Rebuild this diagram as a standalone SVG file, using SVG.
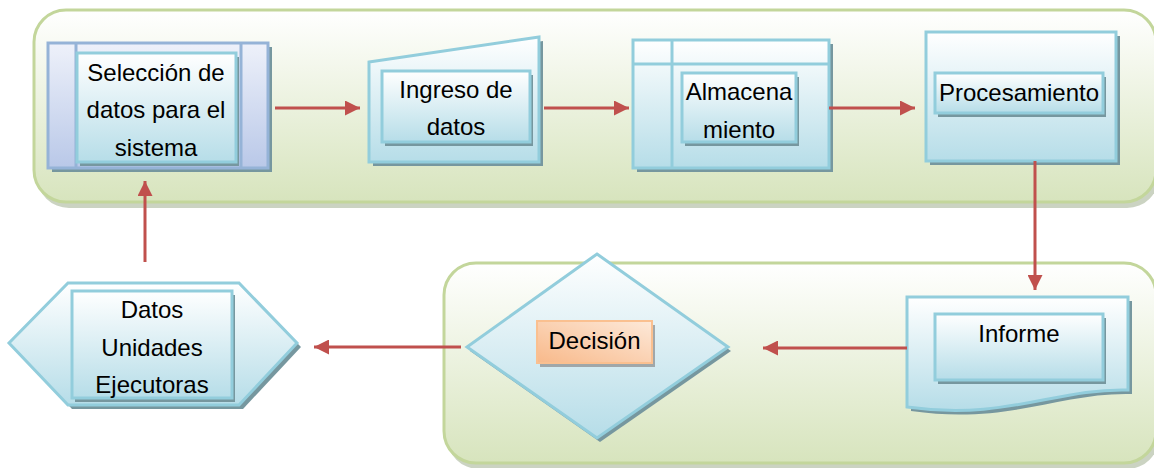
<svg xmlns="http://www.w3.org/2000/svg" width="1154" height="468" viewBox="0 0 1154 468">
<defs>
<linearGradient id="gGreen" x1="0" y1="0" x2="0" y2="1">
<stop offset="0" stop-color="#ffffff"/><stop offset="1" stop-color="#d7e4bd"/>
</linearGradient>
<linearGradient id="gBlue" x1="0" y1="0" x2="0" y2="1">
<stop offset="0" stop-color="#ffffff"/><stop offset="1" stop-color="#b6dde8"/>
</linearGradient>
<linearGradient id="gLav" x1="0" y1="0" x2="0" y2="1">
<stop offset="0" stop-color="#eef1fa"/><stop offset="1" stop-color="#b9c8e8"/>
</linearGradient>
<linearGradient id="gOrange" x1="1" y1="0" x2="0" y2="1">
<stop offset="0" stop-color="#fde9d9"/><stop offset="1" stop-color="#f8b98a"/>
</linearGradient>
<marker id="arr" viewBox="0 0 10 10" refX="10" refY="5" markerWidth="15" markerHeight="15" markerUnits="userSpaceOnUse" orient="auto">
<path d="M0,0 L10,5 L0,10 Z" fill="#c0504d"/>
</marker>
<style>
.cont{fill:url(#gGreen);stroke:#c3d69b;stroke-width:3}
.cshadow{fill:#a9b59a;opacity:0.6}
.outer{fill:url(#gBlue);stroke:#92cddc;stroke-width:3}
.inner{fill:url(#gBlue);stroke:#92cddc;stroke-width:3}
.shadow{fill:#76979f}
.lav{fill:url(#gLav);stroke:#95b3d7;stroke-width:3}
.orange{fill:url(#gOrange);stroke:#fac090;stroke-width:2}
.line{fill:none;stroke:#92cddc;stroke-width:3}
.conn{stroke:#c0504d;stroke-width:3;fill:none;marker-end:url(#arr)}
text{font-family:"Liberation Sans",Arial,sans-serif;font-size:24px;fill:#000;text-anchor:middle}
</style>
</defs>

<g id="containers">
<rect class="cshadow" x="37" y="14" width="1122" height="194" rx="32"/>
<rect class="cont" x="34" y="10" width="1122" height="192" rx="32"/>
<rect class="cshadow" x="447" y="267" width="712" height="202" rx="32"/>
<rect class="cont" x="444" y="263" width="712" height="200" rx="32"/>
</g>

<g id="n-seleccion">
<rect class="shadow" x="52" y="47" width="220" height="125"/>
<rect class="lav" x="48" y="43" width="220" height="125"/>
<line x1="76" y1="43" x2="76" y2="168" stroke="#95b3d7" stroke-width="3"/>
<line x1="241" y1="43" x2="241" y2="168" stroke="#95b3d7" stroke-width="3"/>
<rect class="shadow" x="80" y="57" width="159" height="109"/>
<rect class="inner" x="77" y="53" width="159" height="109"/>
<text x="156" y="81">Selección de</text>
<text x="156" y="118">datos para el</text>
<text x="156" y="156">sistema</text>
</g>

<g id="n-ingreso">
<path class="shadow" d="M373,66 L543,41 L543,166 L373,166 Z"/>
<path class="outer" d="M369,62 L539,37 L539,162 L369,162 Z"/>
<rect class="shadow" x="385" y="75" width="148" height="71"/>
<rect class="inner" x="382" y="71" width="148" height="71"/>
<text x="456" y="98">Ingreso de</text>
<text x="456" y="135">datos</text>
</g>

<g id="n-almacenamiento">
<rect class="shadow" x="637" y="44" width="196" height="128"/>
<rect class="outer" x="633" y="40" width="196" height="128"/>
<line class="line" x1="633" y1="64" x2="829" y2="64"/>
<line class="line" x1="672" y1="40" x2="672" y2="168"/>
<rect class="shadow" x="685" y="77" width="114" height="69"/>
<rect class="inner" x="682" y="73" width="114" height="69"/>
<text x="739" y="100">Almacena</text>
<text x="739" y="138">miento</text>
</g>

<g id="n-procesamiento">
<rect class="shadow" x="930" y="36" width="190" height="129"/>
<rect class="outer" x="926" y="32" width="190" height="129"/>
<rect class="shadow" x="938" y="77" width="168" height="40"/>
<rect class="inner" x="935" y="73" width="168" height="40"/>
<text x="1019" y="101">Procesamiento</text>
</g>

<g id="n-informe">
<path class="shadow" d="M911,301 L1132,301 L1132,394 C1060,392 1010,425 911,411 Z"/>
<path class="outer" d="M907,297 L1128,297 L1128,390 C1056,388 1006,421 907,407 Z"/>
<rect class="shadow" x="938" y="318" width="168" height="66"/>
<rect class="inner" x="935" y="314" width="168" height="66"/>
<text x="1019" y="342">Informe</text>
</g>

<g id="n-decision">
<path class="shadow" d="M600,258 L731,351 L600,442 L470,351 Z"/>
<path class="outer" d="M597,254 L728,347 L597,438 L467,347 Z"/>
<rect fill="#8a8a8a" opacity="0.7" x="540" y="325" width="115" height="42"/>
<rect class="orange" x="537" y="321" width="115" height="42"/>
<text x="594.5" y="349">Decisión</text>
</g>

<g id="n-datos">
<path class="shadow" d="M72,287 L243,287 L301,347 L243,409 L72,409 L13,347 Z"/>
<path class="outer" d="M68,283 L239,283 L297,343 L239,405 L68,405 L9,343 Z"/>
<rect class="shadow" x="75" y="295" width="160" height="107"/>
<rect class="inner" x="72" y="291" width="160" height="107"/>
<text x="152" y="318">Datos</text>
<text x="152" y="356">Unidades</text>
<text x="152" y="393">Ejecutoras</text>
</g>

<g id="connectors">
<line class="conn" x1="275" y1="108" x2="360" y2="108"/>
<line class="conn" x1="544" y1="108" x2="629" y2="108"/>
<line class="conn" x1="829" y1="108" x2="915" y2="108"/>
<line class="conn" x1="1035" y1="161" x2="1035" y2="290"/>
<line class="conn" x1="907" y1="348" x2="763" y2="348"/>
<line class="conn" x1="461" y1="347" x2="314" y2="347"/>
<line class="conn" x1="145" y1="262" x2="145" y2="181"/>
</g>
</svg>
